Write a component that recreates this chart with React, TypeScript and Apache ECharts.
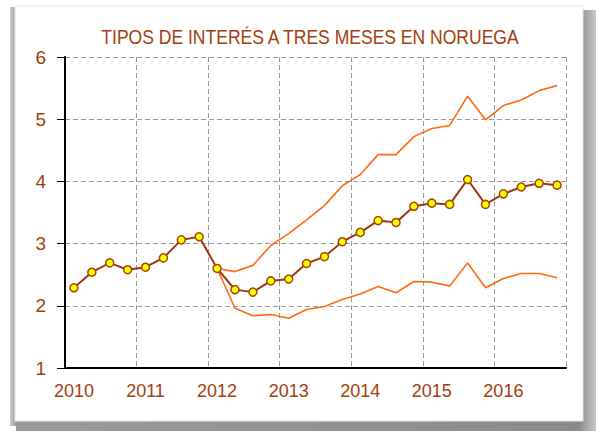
import React, { useEffect, useRef } from "react";
import * as echarts from "echarts";

const years = ["2010", "2011", "2012", "2013", "2014", "2015", "2016"];
const quarters = years.flatMap((y) => [y + "T1", y + "T2", y + "T3", y + "T4"]);

const nibor3m = [
  2.29, 2.54, 2.69, 2.58, 2.62, 2.77, 3.06, 3.11,
  2.60, 2.26, 2.22, 2.40, 2.43, 2.68, 2.79, 3.03,
  3.18, 3.37, 3.34, 3.60, 3.65, 3.63, 4.03, 3.63,
  3.80, 3.91, 3.97, 3.94,
];

const upperBand = [
  null, null, null, null, null, null, null, null,
  2.60, 2.55, 2.65, 2.97, 3.16, 3.38, 3.61, 3.93,
  4.11, 4.43, 4.43, 4.72, 4.85, 4.90, 5.37, 4.99,
  5.22, 5.31, 5.46, 5.54,
];

const lowerBand = [
  null, null, null, null, null, null, null, null,
  2.60, 1.96, 1.84, 1.86, 1.80, 1.94, 1.99, 2.10,
  2.19, 2.31, 2.21, 2.39, 2.38, 2.32, 2.69, 2.29,
  2.44, 2.52, 2.52, 2.45,
];

const TITLE = "TIPOS DE INTERÉS A TRES MESES EN NORUEGA";
const BROWN = "#A3400E";
const ORANGE = "#FF6A10";

export default function App() {
  const ref = useRef<HTMLDivElement>(null);
  useEffect(() => {
    if (!ref.current) return;
    const chart = echarts.init(ref.current, null, { renderer: "svg" });
    const axisFont = "Liberation Sans, Arial, sans-serif";
    chart.setOption({
      animation: false,
      backgroundColor: "#ffffff",
      graphic: [
        {
          type: "rect",
          z: -10,
          shape: { x: 16, y: 10, width: 580, height: 421 },
          style: {
            fill: new echarts.graphic.LinearGradient(0, 0, 1, 0, [
              { offset: 0, color: "#9a9a9a" },
              { offset: 0.97, color: "#8a8a8a" },
              { offset: 1, color: "#c8c8c8" },
            ]),
          },
        },
        {
          type: "rect",
          z: -9,
          shape: { x: 10, y: 7, width: 6, height: 419 },
          style: {
            fill: new echarts.graphic.LinearGradient(0, 0, 1, 0, [
              { offset: 0, color: "#d0d0d0" },
              { offset: 1, color: "#9c9c9c" },
            ]),
          },
        },
        {
          type: "rect",
          z: -8,
          shape: { x: 15, y: 6, width: 568, height: 415 },
          style: { fill: "#ffffff", stroke: "#e6e6e6", lineWidth: 1 },
        },
        {
          type: "group",
          x: 310,
          y: 36,
          scaleX: 0.835,
          z: 10,
          children: [
            {
              type: "text",
              x: 0,
              y: 0,
              style: {
                text: TITLE,
                align: "center",
                verticalAlign: "middle",
                fill: BROWN,
                fontSize: 21,
                fontFamily: "Liberation Sans, Arial, sans-serif",
              },
            },
          ],
        },
      ],
      grid: { left: 65, right: 31, top: 57, bottom: 64, containLabel: false },
      xAxis: {
        type: "category",
        data: quarters,
        boundaryGap: true,
        axisLine: { lineStyle: { color: "#000", width: 2 } },
        axisTick: { interval: 3, length: 5, lineStyle: { color: "#000" } },
        axisLabel: {
          interval: 3,
          margin: 14,
          color: BROWN,
          fontSize: 18,
          fontFamily: axisFont,
          formatter: (v: string) => v.slice(0, 4),
        },
        splitLine: {
          show: true,
          interval: 3,
          lineStyle: { color: "#9a9a9a", type: [5, 3], width: 1 },
        },
      },
      yAxis: {
        type: "value",
        min: 1,
        max: 6,
        interval: 1,
        axisLine: { show: true, lineStyle: { color: "#000", width: 2 } },
        axisTick: { show: true, length: 8, lineStyle: { color: "#000" } },
        axisLabel: {
          margin: 19,
          color: BROWN,
          fontSize: 19,
          fontFamily: axisFont,
        },
        splitLine: {
          lineStyle: { color: "#9a9a9a", type: [5, 3], width: 1 },
        },
      },
      series: [
        {
          type: "line",
          data: upperBand,
          symbol: "none",
          lineStyle: { color: ORANGE, width: 1.6 },
          z: 2,
        },
        {
          type: "line",
          data: lowerBand,
          symbol: "none",
          lineStyle: { color: ORANGE, width: 1.6 },
          z: 2,
        },
        {
          type: "line",
          data: nibor3m,
          symbol: "circle",
          symbolSize: 8,
          lineStyle: { color: "#9A3A0C", width: 2 },
          itemStyle: { color: "#FFFF00", borderColor: "#A8450F", borderWidth: 1.5 },
          z: 3,
        },
      ],
    });
    return () => chart.dispose();
  }, []);
  return (
    <div
      ref={ref}
      style={{ position: "absolute", left: 0, top: 0, width: 597, height: 432 }}
    />
  );
}
